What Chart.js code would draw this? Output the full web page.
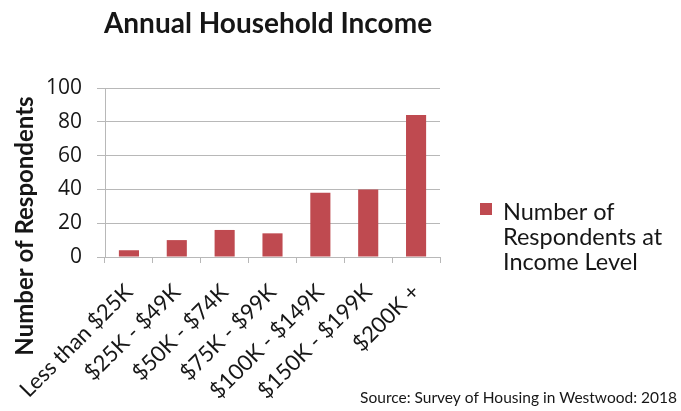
<!DOCTYPE html>
<html>
<head>
<meta charset="utf-8">
<script src="https://cdn.jsdelivr.net/npm/chart.js@4"></script>
<style>
  html, body { margin: 0; padding: 0; background: #fff; }
  #wrap { width: 681px; height: 411px; }
</style>
</head>
<body>
<div id="wrap"><canvas id="incomeChart"></canvas></div>
<script>
// data
const incomeLabels = ['Less than $25K', '$25K - $49K', '$50K - $74K', '$75K - $99K', '$100K - $149K', '$150K - $199K', '$200K +'];
const respondents = [4, 10, 16, 14, 38, 40, 84];
const yMax = 100;
const yStep = 20;

const chartTitle = 'Annual Household Income';
const yTitle = 'Number of Respondents';
const legendLines = ['Number of', 'Respondents at', 'Income Level'];
const sourceNote = 'Source: Survey of Housing in Westwood: 2018';

const barColor = '#bf4a50';
const textColor = '#161616';
const gridColor = '#b8b8b8';

// title, y title, legend and source are placed like in the original
const extraText = {
    id: 'extraText',
    afterDraw(chart) {
        const ctx = chart.ctx;
        ctx.save();
        ctx.fillStyle = textColor;

        ctx.font = 'bold 28px Lato';
        ctx.textAlign = 'center';
        ctx.textBaseline = 'alphabetic';
        ctx.fillText(chartTitle, 268, 33);

        ctx.save();
        ctx.translate(33, 226);
        ctx.rotate(-Math.PI / 2);
        ctx.font = 'bold 24px Lato';
        ctx.fillText(yTitle, 0, 0);
        ctx.restore();

        // legend
        ctx.fillStyle = barColor;
        ctx.fillRect(480, 203, 12, 12);
        ctx.fillStyle = textColor;
        ctx.font = '23.5px Lato';
        ctx.textAlign = 'left';
        legendLines.forEach((line, i) => {
            ctx.fillText(line, 503, 220 + i * 25);
        });

        ctx.font = '15.5px Lato';
        ctx.textAlign = 'right';
        ctx.fillText(sourceNote, 677, 403);
        ctx.restore();
    }
};

const data = {
    labels: incomeLabels,
    datasets: [{
            label: legendLines.join(' '),
            data: respondents,
            backgroundColor: barColor,
            borderWidth: 0,
            categoryPercentage: 1,
            barPercentage: 0.42
        }]
};

const config = {
    type: 'bar',
    data: data,
    options: {
        responsive: false,
        animation: false,
        layout: {
            padding: {left: 0, top: 88, right: 241, bottom: 0}
        },
        plugins: {
            legend: {display: false},
            title: {display: false},
            tooltip: {enabled: false}
        },
        scales: {
            x: {
                afterFit(scale) { scale.height = 154; },
                grid: {
                    drawOnChartArea: false,
                    offset: true,
                    tickLength: 6,
                    color: gridColor
                },
                border: {color: gridColor},
                ticks: {
                    maxRotation: 45,
                    minRotation: 45,
                    padding: 16,
                    color: textColor,
                    font: {family: 'Lato', size: 22}
                }
            },
            y: {
                min: 0,
                max: yMax,
                afterFit(scale) { scale.width = 105; },
                grid: {
                    color: gridColor,
                    tickLength: 8
                },
                border: {color: gridColor},
                ticks: {
                    stepSize: yStep,
                    padding: 15,
                    color: textColor,
                    font: {family: 'Open Sans', size: 21}
                }
            }
        }
    },
    plugins: [extraText]
};

const canvas = document.getElementById('incomeChart');
canvas.width = 681;
canvas.height = 411;
new Chart(canvas.getContext('2d'), config);
</script>
</body>
</html>
